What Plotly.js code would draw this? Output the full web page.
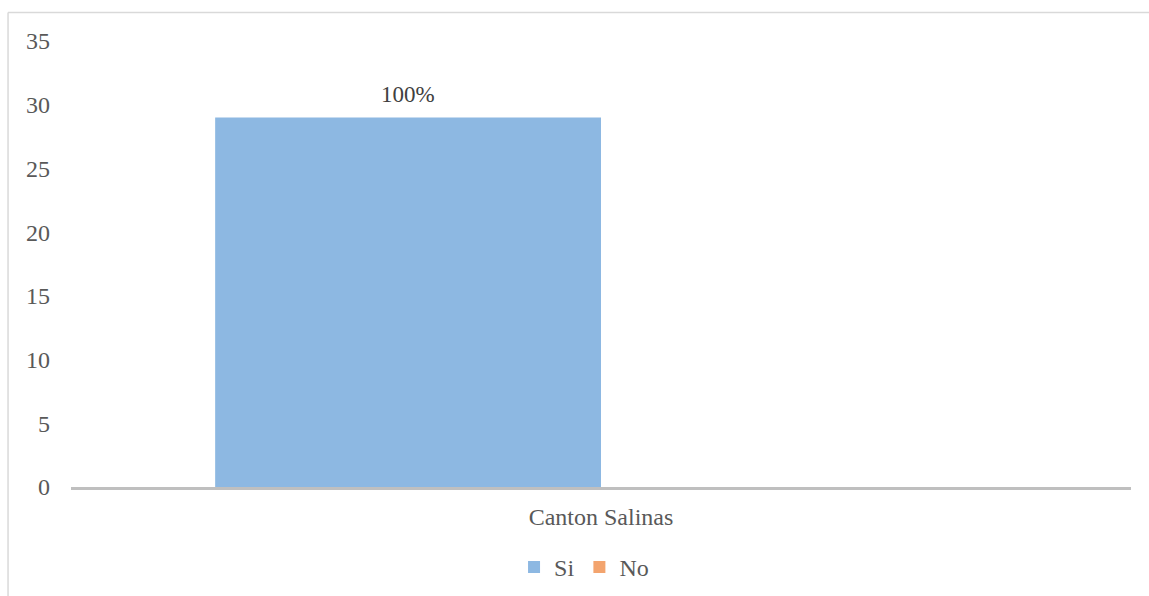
<!DOCTYPE html>
<html>
<head>
<meta charset="utf-8">
<script src="https://cdn.plot.ly/plotly-3.0.1.min.js"></script>
<style>html,body{margin:0;padding:0;background:#fff;}#chart{width:1149px;height:596px;}</style>
</head>
<body>
<div id="chart"></div>
<script>
const categories = ['Canton Salinas'];
const siValues = [29];
const noValues = [0];
const siLabels = ['100%'];
const yTicks = [0, 5, 10, 15, 20, 25, 30, 35];

const font = '"Liberation Serif", "Times New Roman", serif';

const traces = [
  {type: 'bar', name: 'Si', x: categories, y: siValues,
   marker: {color: '#8DB8E2'}, hoverinfo: 'skip'},
  {type: 'bar', name: 'No', x: categories, y: noValues,
   marker: {color: '#F3A46E'}, hoverinfo: 'skip'}
];

const annotations = categories.map((c, i) => ({
  x: c, y: siValues[i], xref: 'x', yref: 'y', text: siLabels[i], showarrow: false,
  xshift: -193, yshift: 23, yanchor: 'middle', xanchor: 'center',
  font: {family: font, size: 23, color: '#404040'}
}));

const layout = {
  width: 1149, height: 596,
  margin: {l: 71, r: 18, t: 41, b: 109, autoexpand: false},
  paper_bgcolor: '#ffffff', plot_bgcolor: '#ffffff',
  font: {family: font, size: 24, color: '#595959'},
  barmode: 'group', bargap: 0.272, bargroupgap: 0,
  showlegend: true,
  legend: {orientation: 'h', x: 0.484, xanchor: 'center', y: -0.18, yanchor: 'middle',
           font: {family: font, size: 24, color: '#595959'}, itemwidth: 30, tracegroupgap: 0},
  xaxis: {showline: true, linecolor: '#BFBFBF', linewidth: 2.5, ticks: '', showgrid: false,
          zeroline: false, ticklabelstandoff: 7, fixedrange: true, automargin: false},
  yaxis: {range: [0, 35], tickvals: yTicks, showgrid: false, zeroline: false, showline: false,
          ticks: '', ticklabelstandoff: 20, fixedrange: true, automargin: false},
  annotations: annotations,
  shapes: [
    {type: 'line', xref: 'paper', yref: 'paper', x0: -0.0594, x1: 1.2, y0: 1.0639, y1: 1.0639,
     line: {color: '#D9D9D9', width: 1.5}},
    {type: 'line', xref: 'paper', yref: 'paper', x0: -0.0594, x1: -0.0594, y0: -0.3, y1: 1.0639,
     line: {color: '#D9D9D9', width: 1.5}}
  ]
};

Plotly.newPlot('chart', traces, layout, {displayModeBar: false, staticPlot: true});
</script>
</body>
</html>
